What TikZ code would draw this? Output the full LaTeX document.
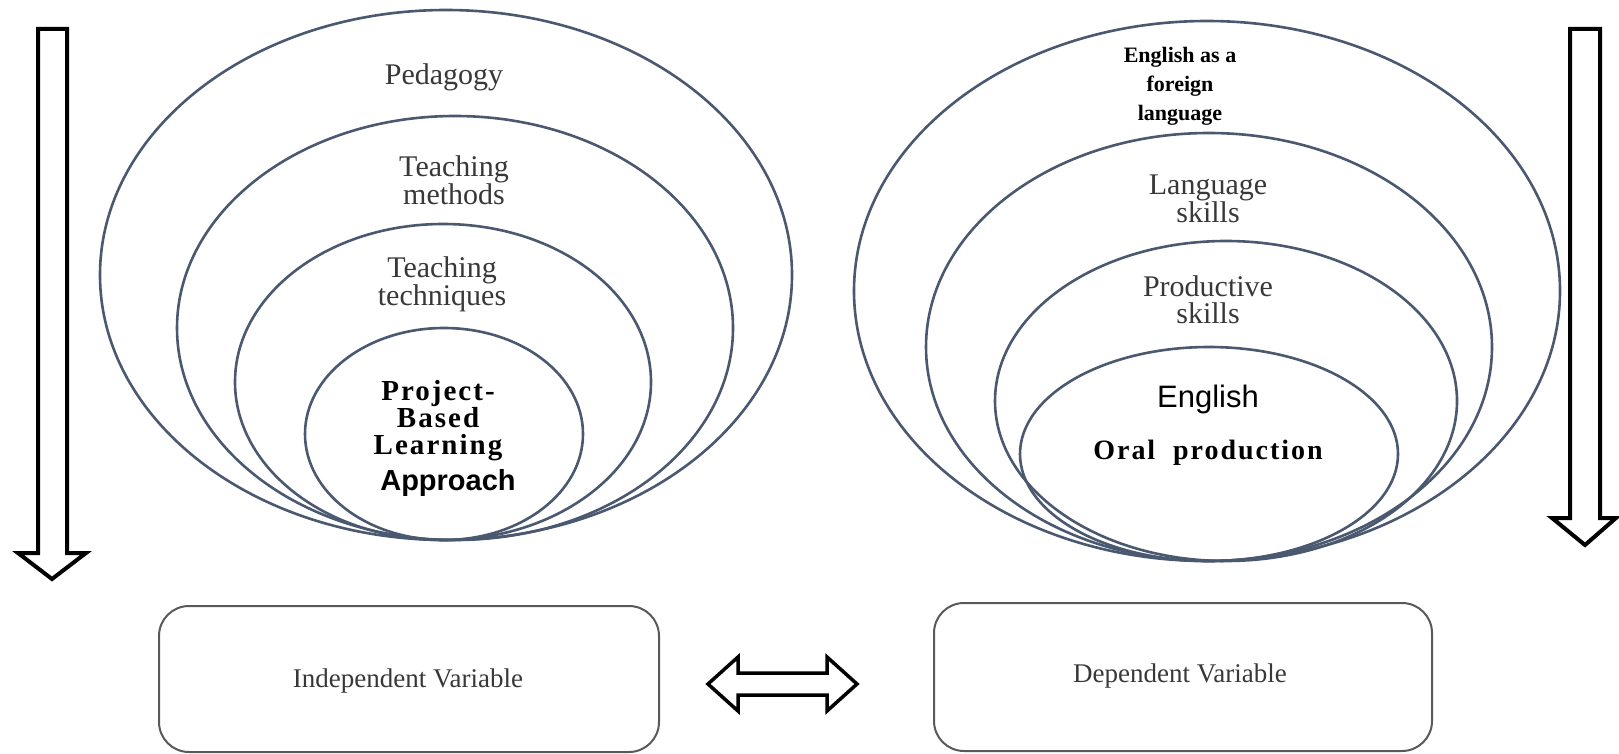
\documentclass[tikz,border=0pt]{standalone}
\usepackage{fontspec}
\setmainfont{Liberation Serif}
\newfontfamily\arialf{Liberation Sans}
\newfontfamily\spacedbf[LetterSpace=7]{Liberation Serif Bold}
\definecolor{ringc}{HTML}{4A5870}
\definecolor{txtc}{HTML}{383838}
\begin{document}
\begin{tikzpicture}[x=1pt,y=-1pt,
  ring/.style={draw=ringc,line width=2.6pt},
  fatarrow/.style={draw=black,line width=4pt,fill=white,line join=miter},
  varbox/.style={draw=black!65,line width=2pt,rounded corners=30pt},
  lbl/.style={align=center,text=txtc,font=\fontsize{30}{27}\selectfont,inner sep=0pt},
  blbl/.style={align=center,text=black,font=\spacedbf\fontsize{29}{27}\selectfont,inner sep=0pt},
  slbl/.style={align=center,text=black,font=\arialf\fontsize{31}{31}\selectfont,inner sep=0pt},
  boxlbl/.style={font=\fontsize{27}{27}\selectfont,text=txtc,inner sep=0pt}]
\useasboundingbox (0,0) rectangle (1619,754);
% left rings
\draw[ring] (446,275) ellipse [x radius=346,y radius=265];
\draw[ring] (455,328) ellipse [x radius=278,y radius=212];
\draw[ring] (443,382) ellipse [x radius=208,y radius=158];
\draw[ring] (444,434) ellipse [x radius=139,y radius=106];
% right rings
\draw[ring] (1207,291) ellipse [x radius=353,y radius=270];
\draw[ring] (1209,347) ellipse [x radius=283,y radius=214];
\draw[ring] (1226,401) ellipse [x radius=231,y radius=160];
\draw[ring] (1209,454) ellipse [x radius=189,y radius=107];
% left labels
\node[lbl] (ped) at (444,77) {Pedagogy};
\node[lbl] (tm) at (454,180) {Teaching\\methods};
\node[lbl] (tt) at (442,284) {Teaching\\techniques};
\node[blbl] (pbl) at (438,421) {Project-\\Based\\Learning};
\node[slbl,font=\arialf\bfseries\fontsize{29}{29}\selectfont] (app) at (448,483) {Approach};
% right labels
\node[align=center,inner sep=0pt,font=\bfseries\fontsize{22}{29}\selectfont] (efl) at (1180,86) {English as a\\foreign\\language};
\node[lbl] (ls) at (1208,199) {Language\\skills};
\node[lbl] (ps) at (1208,300) {Productive\\skills};
\node[slbl] (eng) at (1208,399) {English};
\node[blbl,font=\spacedbf\fontsize{28}{28}\selectfont] (oral) at (1208,453) {Oral\ \ production};
% vertical arrows
\draw[fatarrow] (38,29) -- (67,29) -- (67,553) -- (86,553) -- (52,579) -- (18,553) -- (38,553) -- cycle;
\draw[fatarrow] (1570,29) -- (1600,29) -- (1600,518) -- (1616,518) -- (1585,545) -- (1552,518) -- (1570,518) -- cycle;
% boxes
\node[varbox,minimum width=500pt,minimum height=146pt,inner sep=0pt] (iv) at (409,679) {};
\node[boxlbl] (ivt) at (408,681) {Independent Variable};
\node[varbox,minimum width=498pt,minimum height=148pt,inner sep=0pt] (dv) at (1183,677) {};
\node[boxlbl] (dvt) at (1180,676) {Dependent Variable};
% double arrow
\draw[fatarrow,line width=3.5pt] (708,684) -- (738,657) -- (738,673) -- (827,673) -- (827,657) -- (857,684) -- (827,711) -- (827,695) -- (738,695) -- (738,711) -- cycle;
\end{tikzpicture}
\end{document}
